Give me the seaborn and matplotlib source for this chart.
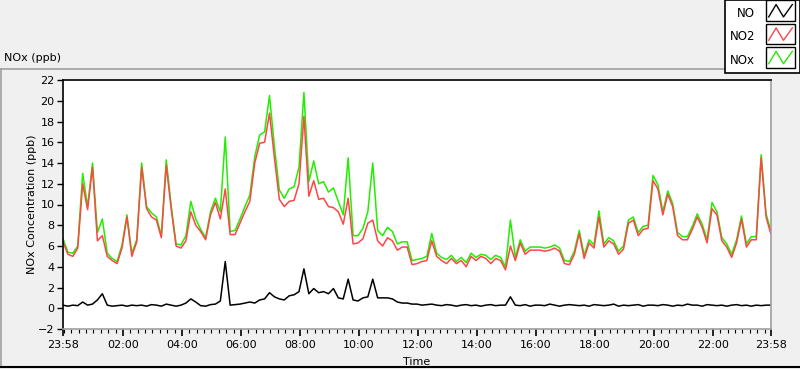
import numpy as np
import pandas as pd
import seaborn as sns
import matplotlib.pyplot as plt
import matplotlib.dates as mdates
from matplotlib.lines import Line2D
from matplotlib.patches import Rectangle
from matplotlib.legend_handler import HandlerBase

# 10-minute readings from 23:58 to 23:58 next day (145 points)
no2 = [6.4, 5.2, 5.0, 5.8, 12.0, 9.5, 13.6, 6.5, 7.0, 5.0,
       4.6, 4.3, 5.8, 8.8, 5.0, 6.4, 13.6, 9.6, 8.8, 8.5,
       6.8, 13.8, 9.6, 6.0, 5.8, 6.5, 9.3, 8.0, 7.4, 6.6,
       9.0, 10.2, 8.6, 11.5, 7.1, 7.1, 8.2, 9.3, 10.3, 14.0,
       15.9, 16.0, 18.8, 14.5, 10.5, 9.8, 10.3, 10.4, 12.0, 18.5,
       10.8, 12.3, 10.5, 10.6, 9.8, 9.7, 9.3, 8.1, 10.6, 6.2,
       6.3, 6.7, 8.2, 8.5, 6.5, 6.0, 6.8, 6.5, 5.6, 5.9,
       5.9, 4.2, 4.3, 4.5, 4.6, 6.5, 5.0, 4.6, 4.3, 4.8,
       4.3, 4.6, 4.0, 5.0, 4.6, 5.0, 4.8, 4.3, 4.8, 4.6,
       3.7, 6.0, 4.6, 6.3, 5.2, 5.6, 5.6, 5.6, 5.5, 5.6,
       5.8, 5.5, 4.3, 4.2, 5.2, 7.2, 4.8, 6.3, 5.8, 8.8,
       5.9, 6.5, 6.2, 5.2, 5.7, 8.2, 8.5, 7.0, 7.6, 7.7,
       12.3, 11.5, 9.0, 11.0, 9.8, 7.0, 6.6, 6.6, 7.6, 8.8,
       7.8, 6.3, 9.6, 9.0, 6.5, 5.9, 4.9, 6.3, 8.6, 5.9,
       6.6, 6.6, 14.5, 8.8, 7.1]

nox = [6.7, 5.4, 5.3, 6.0, 13.0, 9.8, 14.0, 7.3, 8.6, 5.3,
       4.8, 4.5, 6.1, 9.0, 5.3, 6.6, 14.0, 9.8, 9.2, 8.8,
       7.0, 14.3, 9.9, 6.2, 6.1, 7.0, 10.3, 8.6, 7.6, 6.8,
       9.3, 10.6, 9.3, 16.5, 7.4, 7.5, 8.6, 9.8, 10.9, 14.6,
       16.7, 17.0, 20.5, 15.6, 11.4, 10.6, 11.5, 11.7, 13.6, 20.8,
       12.2, 14.2, 12.0, 12.2, 11.2, 11.6, 10.3, 9.0, 14.5, 7.0,
       7.0, 7.7, 9.3, 14.0, 7.5, 7.0, 7.8, 7.4, 6.2, 6.4,
       6.4, 4.6, 4.7, 4.8, 5.0, 7.2, 5.3, 4.9, 4.7, 5.1,
       4.5, 4.9, 4.4, 5.3, 4.9, 5.2, 5.1, 4.7, 5.1, 4.9,
       4.0, 8.5, 4.9, 6.6, 5.5, 5.9, 5.9, 5.9, 5.8, 5.9,
       6.1, 5.8, 4.6, 4.5, 5.5, 7.5, 5.1, 6.6, 6.1, 9.4,
       6.2, 6.8, 6.5, 5.5, 6.0, 8.5, 8.8, 7.3, 7.9, 8.0,
       12.8, 11.9, 9.3, 11.3, 10.1, 7.3, 6.9, 6.9, 7.9, 9.1,
       8.1, 6.6, 10.2, 9.3, 6.8, 6.2, 5.2, 6.6, 8.9, 6.2,
       6.9, 6.9, 14.8, 9.1, 7.4]

no = [0.3, 0.2, 0.3, 0.25, 0.6, 0.3, 0.4, 0.8, 1.4, 0.3,
      0.2, 0.25, 0.3, 0.2, 0.3, 0.25, 0.3, 0.2, 0.35, 0.3,
      0.2, 0.4, 0.3, 0.2, 0.3, 0.5, 0.9, 0.6, 0.25, 0.2,
      0.35, 0.4, 0.7, 4.5, 0.3, 0.35, 0.4, 0.5, 0.6, 0.5,
      0.8, 0.9, 1.5, 1.1, 0.9, 0.8, 1.2, 1.3, 1.6, 3.8,
      1.4, 1.9, 1.5, 1.6, 1.4, 1.9, 1.0, 0.9, 2.8, 0.8,
      0.7, 1.0, 1.1, 2.8, 1.0, 1.0, 1.0, 0.9, 0.6, 0.5,
      0.5, 0.4, 0.4, 0.3, 0.35, 0.4, 0.3, 0.25, 0.35, 0.3,
      0.2, 0.3, 0.35, 0.25, 0.3, 0.2, 0.3, 0.35, 0.25, 0.3,
      0.3, 1.1, 0.3, 0.25, 0.35, 0.2, 0.3, 0.3, 0.25, 0.4,
      0.3, 0.2, 0.3, 0.35, 0.3, 0.25, 0.3, 0.2, 0.35, 0.3,
      0.25, 0.3, 0.4, 0.2, 0.3, 0.25, 0.3, 0.35, 0.2, 0.3,
      0.3, 0.25, 0.35, 0.3, 0.2, 0.3, 0.25, 0.4, 0.3, 0.3,
      0.2, 0.35, 0.3, 0.25, 0.3, 0.2, 0.3, 0.35, 0.25, 0.3,
      0.2, 0.3, 0.25, 0.3, 0.3]

series = ['NO', 'NO2', 'NOx']
colors = {'NO': '#000000', 'NO2': '#ff4646', 'NOx': '#22ee00'}

times = pd.date_range('2015-06-01 23:58', periods=len(no2), freq='10min')
df = pd.DataFrame({'Time': times, 'NO': no, 'NO2': no2, 'NOx': nox})
long = df.melt(id_vars='Time', var_name='series', value_name='ppb')

plt.rcParams['font.family'] = ['DejaVu Sans']
plt.rcParams['font.size'] = 8

fig = plt.figure(figsize=(8, 3.69), dpi=100, facecolor='#f0f0f0')
ax = fig.add_axes([63/800, 1-329/369, 708/800, 249/369])
ax.set_facecolor('white')

sns.lineplot(data=long, x='Time', y='ppb', hue='series', hue_order=['NOx', 'NO2', 'NO'],
             palette=colors, legend=False, lw=1.1, ax=ax)

ax.set_xlim(times[0], times[-1])
ax.set_ylim(-2, 22)
ax.set_yticks(range(-2, 23, 2))
ticks = [times[0]] + list(pd.date_range('2015-06-02 02:00', periods=11, freq='2h')) + [times[-1]]
ax.set_xticks(ticks)
ax.xaxis.set_major_formatter(mdates.DateFormatter('%H:%M'))
ax.xaxis.set_minor_locator(mdates.MinuteLocator(byminute=[0, 15, 30, 45]))
ax.tick_params(axis='x', which='major', length=5, width=1.2, pad=3, colors='black')
ax.tick_params(axis='x', which='minor', length=3, width=0.8)
ax.tick_params(axis='y', length=4, width=1, pad=2)
ax.set_xlabel('Time', labelpad=5)
ax.set_ylabel('NOx Concentration (ppb)', labelpad=1)
for s in ['left', 'top']:
    ax.spines[s].set_color('black')
    ax.spines[s].set_linewidth(1.2)
for s in ['right', 'bottom']:
    ax.spines[s].set_color('#a0a0a0')
    ax.spines[s].set_linewidth(1.2)

fig.text(4/800, 1-58/369, 'NOx (ppb)', ha='left', va='center', fontsize=8)

# panel frame
fig.add_artist(Line2D([0, 731/800], [1-69/369]*2, color='#a0a0a0', lw=1.2))
fig.add_artist(Line2D([1/800]*2, [1-69/369, 1-367/369], color='#a0a0a0', lw=1.2))
fig.add_artist(Line2D([0, 1], [1-367/369]*2, color='black', lw=1.5))


class ZigZag(HandlerBase):
    def create_artists(self, legend, orig, xd, yd, w, h, fs, trans):
        x0, y0, hh = -xd, -yd, h + yd
        rect = Rectangle((x0, y0), w, hh, fc='white', ec='black', lw=1, transform=trans)
        xs = x0 + w*np.array([0.1, 0.35, 0.6, 0.9])
        ys = y0 + hh*np.array([0.2, 0.8, 0.2, 0.8])
        line = Line2D(xs, ys, color=orig.get_color(), lw=1, transform=trans)
        return [rect, line]


handles = [Line2D([], [], color=colors[s]) for s in series]
leg = fig.legend(handles, series, loc='upper right', bbox_to_anchor=(1.0, 1.0),
                 borderaxespad=0, handler_map={Line2D: ZigZag()}, markerfirst=False,
                 fancybox=False, framealpha=1, edgecolor='black', handlelength=2.5,
                 handleheight=1.75, labelspacing=0.6, borderpad=0.4, handletextpad=0.9,
                 fontsize=8.5)
leg.get_frame().set_linewidth(1.2)

fig.savefig('out.png', dpi=100, facecolor=fig.get_facecolor())
